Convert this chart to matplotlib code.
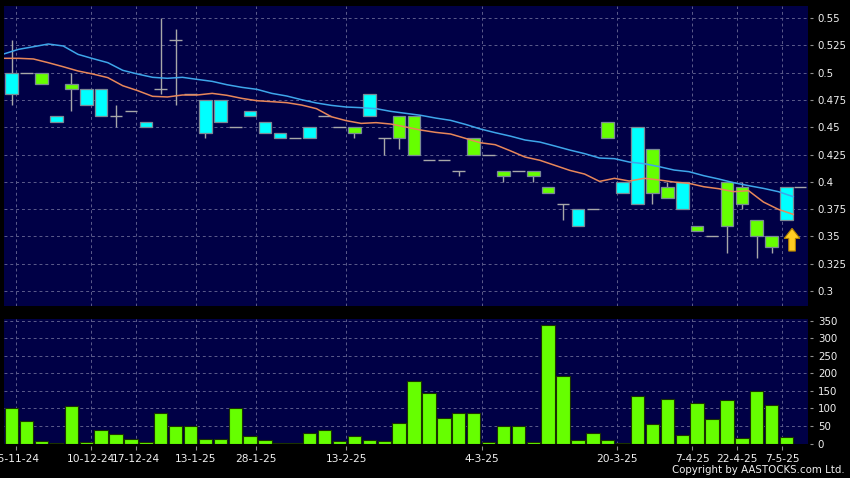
import numpy as np
import matplotlib
matplotlib.use("Agg")
import matplotlib.pyplot as plt
from matplotlib.patches import Rectangle, FancyArrow

# ---------------- data ----------------
tick_idx = [0, 5, 8, 12, 16, 22, 31, 40, 45, 48, 51]
tick_labels = ['25-11-24', '10-12-24', '17-12-24', '13-1-25', '28-1-25', '13-2-25',
               '4-3-25', '20-3-25', '7-4-25', '22-4-25', '7-5-25']

opens = [0.48, 0.50, 0.50, 0.455, 0.49, 0.47, 0.46, 0.46, 0.465, 0.45,
         0.485, 0.53, 0.48, 0.445, 0.455, 0.45, 0.46, 0.445, 0.44, 0.44,
         0.44, 0.46, 0.45, 0.45, 0.46, 0.44, 0.46, 0.46, 0.42, 0.42,
         0.41, 0.44, 0.425, 0.41, 0.41, 0.41, 0.395, 0.38, 0.36, 0.375,
         0.455, 0.39, 0.38, 0.43, 0.395, 0.375, 0.36, 0.35, 0.40, 0.395,
         0.365, 0.35, 0.365]
highs = [0.53, 0.50, 0.50, 0.46, 0.50, 0.485, 0.485, 0.47, 0.465, 0.455,
         0.55, 0.54, 0.48, 0.475, 0.475, 0.45, 0.465, 0.455, 0.445, 0.44,
         0.45, 0.46, 0.45, 0.45, 0.48, 0.44, 0.46, 0.46, 0.42, 0.42,
         0.41, 0.44, 0.425, 0.41, 0.41, 0.41, 0.395, 0.38, 0.375, 0.375,
         0.455, 0.40, 0.45, 0.43, 0.40, 0.40, 0.36, 0.35, 0.40, 0.40,
         0.365, 0.35, 0.395]
lows = [0.47, 0.50, 0.49, 0.455, 0.465, 0.47, 0.46, 0.45, 0.465, 0.45,
        0.48, 0.47, 0.48, 0.44, 0.455, 0.45, 0.46, 0.445, 0.44, 0.44,
        0.44, 0.46, 0.45, 0.44, 0.46, 0.425, 0.43, 0.425, 0.42, 0.42,
        0.405, 0.425, 0.425, 0.40, 0.41, 0.40, 0.39, 0.365, 0.36, 0.375,
        0.44, 0.39, 0.38, 0.38, 0.385, 0.375, 0.355, 0.35, 0.335, 0.375,
        0.33, 0.335, 0.365]
closes = [0.50, 0.50, 0.49, 0.46, 0.485, 0.485, 0.485, 0.46, 0.465, 0.455,
          0.485, 0.53, 0.48, 0.475, 0.475, 0.45, 0.465, 0.455, 0.445, 0.44,
          0.45, 0.46, 0.45, 0.445, 0.48, 0.44, 0.44, 0.425, 0.42, 0.42,
          0.41, 0.425, 0.425, 0.405, 0.41, 0.405, 0.39, 0.38, 0.375, 0.375,
          0.44, 0.40, 0.45, 0.39, 0.385, 0.40, 0.355, 0.35, 0.36, 0.38,
          0.35, 0.34, 0.395]
volumes = [102, 64, 8, 2, 106, 3, 38, 27, 14, 3,
           86, 51, 51, 12, 14, 100, 22, 9, 1, 2,
           30, 38, 8, 22, 10, 8, 58, 178, 144, 74,
           86, 86, 3, 51, 49, 3, 338, 194, 11, 30,
           10, 2, 135, 55, 126, 24, 115, 70, 125, 15,
           150, 109, 18]
# moving averages, first value is the session before the first candle
ma10 = [0.5131, 0.5131, 0.5125, 0.5091, 0.5054, 0.5015, 0.4987, 0.4954, 0.4880, 0.4835,
        0.4783, 0.4777, 0.4795, 0.4795, 0.4810, 0.4792, 0.4764, 0.4743, 0.4734, 0.4725,
        0.4703, 0.4670, 0.4596, 0.4560, 0.4535, 0.4542, 0.4529, 0.4502, 0.4474, 0.4453,
        0.4438, 0.4398, 0.4358, 0.4340, 0.4285, 0.4227, 0.4197, 0.4151, 0.4105, 0.4071,
        0.4004, 0.4032, 0.4007, 0.4032, 0.4017, 0.3998, 0.3986, 0.3955, 0.3937, 0.3910,
        0.3919, 0.3815, 0.3748, 0.3702]
ma20 = [0.5170, 0.5213, 0.5237, 0.5262, 0.5244, 0.5167, 0.5128, 0.5091, 0.5021, 0.4987,
        0.4957, 0.4948, 0.4957, 0.4938, 0.4920, 0.4889, 0.4865, 0.4847, 0.4810, 0.4786,
        0.4752, 0.4722, 0.4700, 0.4685, 0.4679, 0.4670, 0.4645, 0.4627, 0.4609, 0.4584,
        0.4563, 0.4526, 0.4484, 0.4450, 0.4419, 0.4383, 0.4364, 0.4328, 0.4291, 0.4258,
        0.4218, 0.4212, 0.4181, 0.4166, 0.4139, 0.4108, 0.4093, 0.4056, 0.4026, 0.3992,
        0.3965, 0.3940, 0.3910, 0.3864]
price_ticks = [0.3, 0.325, 0.35, 0.375, 0.4, 0.425, 0.45, 0.475, 0.5, 0.525, 0.55]
price_tick_labels = ['0.3', '0.325', '0.35', '0.375', '0.4', '0.425', '0.45',
                     '0.475', '0.5', '0.525', '0.55']
vol_ticks = [0, 50, 100, 150, 200, 250, 300, 350]

# ---------------- style ----------------
BG = 'black'
PANEL = '#000046'
UP = '#00ffff'
DOWN = '#66ff00'
WICK = '#a8a8a8'
GRID = '#5c5c8c'
TXT = '#f0f0f0'
plt.rcParams['font.family'] = ['DejaVu Sans']

fig = plt.figure(figsize=(8.5, 4.78), dpi=100, facecolor=BG)
W, H = 850.0, 478.0
ax1 = fig.add_axes([4 / W, 1 - 306 / H, 804 / W, 300 / H], facecolor=PANEL)
ax2 = fig.add_axes([4 / W, 1 - 443.5 / H, 804 / W, 124.5 / H], facecolor=PANEL)

n = len(closes)
x = np.arange(n)
xlim = (-0.52, 53.44)
tick_scale = 15.0 / 14.865
tick_x = 0.26 + np.array(tick_idx) * tick_scale

body_w = 0.85
for i in range(n):
    o, h, l, c = opens[i], highs[i], lows[i], closes[i]
    if h > l:
        ax1.vlines(x[i], l, h, color=WICK, lw=1.0, zorder=2)
    if c == o:
        ax1.hlines(c, x[i] - body_w / 2, x[i] + body_w / 2, color=WICK, lw=1.0, zorder=3)
    else:
        col = UP if c > o else DOWN
        ax1.add_patch(Rectangle((x[i] - body_w / 2, min(o, c)), body_w, abs(c - o),
                                facecolor=col, edgecolor='#7a8a96', lw=0.9, zorder=3))

ma_x = np.arange(-1, n) + 0.45
ax1.plot(ma_x, ma20, color='#3ea6ea', lw=1.1, zorder=4)
ax1.plot(ma_x, ma10, color='#e8875a', lw=1.1, zorder=4)

# last price marker
ax1.hlines(closes[-1], n - 1 + 0.5, n - 1 + 1.3, color=WICK, lw=1.0, zorder=3)
# up arrow
ax1.add_patch(FancyArrow(n - 1 + 0.37, 0.3366, 0, 0.0208, width=0.45, head_width=1.05,
                         head_length=0.0092, length_includes_head=True,
                         facecolor='#ffcc22', edgecolor='#b08000', lw=0.8, zorder=5))

ax1.set_xlim(*xlim)
ax1.set_ylim(0.2863, 0.561)
ax1.set_yticks(price_ticks)
ax1.set_yticklabels(price_tick_labels)
ax1.set_xticks(tick_x)
ax1.set_xticklabels([])

ax2.bar(x, volumes, width=0.9, color=DOWN, edgecolor='#1b3300', lw=0.8, zorder=3)
ax2.set_xlim(*xlim)
ax2.set_ylim(0, 355.7)
ax2.set_yticks(vol_ticks)
ax2.set_yticklabels([str(v) for v in vol_ticks])
ax2.set_xticks(tick_x)
ax2.set_xticklabels(tick_labels)

for ax in (ax1, ax2):
    for s in ax.spines.values():
        s.set_visible(False)
    ax.spines['right'].set_position(('outward', 1.5))
    ax.spines['bottom'].set_position(('outward', 2))
    ax.yaxis.tick_right()
    ax.tick_params(axis='y', direction='out', length=2.4, width=0.8, color='#909090',
                   labelcolor=TXT, labelsize=7.4, pad=3.2)
    ax.grid(True, color=GRID, lw=0.7, linestyle=(0, (3, 3)), zorder=1)
    ax.set_axisbelow(True)

ax1.tick_params(axis='x', length=0)
ax2.tick_params(axis='x', direction='out', length=2.6, width=0.8, color='#909090',
                labelcolor=TXT, labelsize=7.7, pad=3.0)

fig.text(0.994, 0.006, 'Copyright by AASTOCKS.com Ltd.', color=TXT, fontsize=7.4,
         ha='right', va='bottom')

fig.savefig('out.png', dpi=100, facecolor=BG)
